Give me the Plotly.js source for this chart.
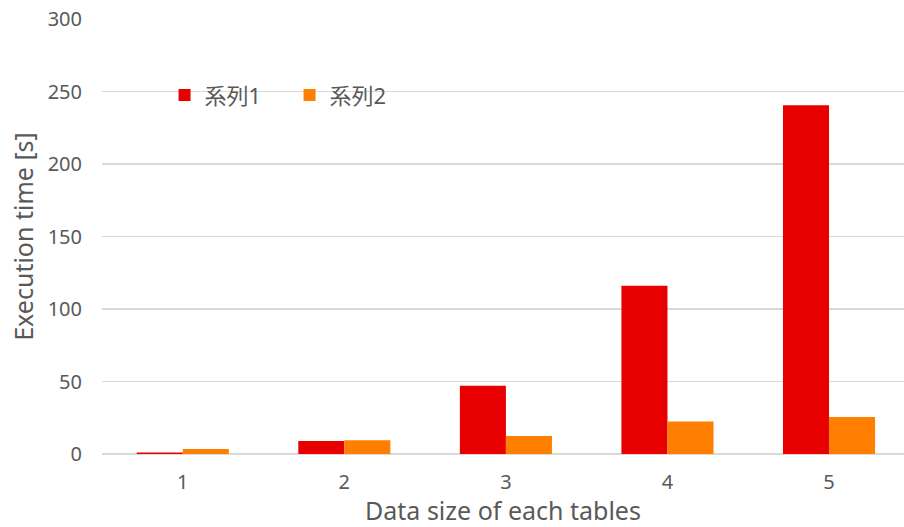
<!DOCTYPE html>
<html><head><meta charset="utf-8">
<script src="https://cdn.plot.ly/plotly-3.0.1.min.js"></script>
<style>body{margin:0;background:#fff}#c{width:904px;height:527px}</style>
</head><body><div id="c"></div>
<script>
const categories = ['1','2','3','4','5'];
const series1Name = '系列1';
const series2Name = '系列2';
const series1 = [1, 9, 47, 116, 240.5];
const series2 = [3.5, 9.5, 12.5, 22.5, 25.5];
const yTicks = [0, 50, 100, 150, 200, 250, 300];

const font = "'Noto Sans', 'Noto Sans CJK JP', sans-serif";
const data = [
  {type:'bar', x:categories, y:series1, name:series1Name, marker:{color:'#E80000'}},
  {type:'bar', x:categories, y:series2, name:series2Name, marker:{color:'#FF8000'}}
];
const layout = {
  width:904, height:527,
  margin:{l:102, r:0, t:19, b:72.5},
  paper_bgcolor:'#fff', plot_bgcolor:'#fff',
  font:{family:font, color:'#595959', size:20},
  barmode:'group', bargap:0.43, bargroupgap:0,
  showlegend:true,
  legend:{orientation:'h', x:0.078, y:0.825, xanchor:'left', yanchor:'middle',
          bgcolor:'rgba(0,0,0,0)', font:{size:22, color:'#595959'}, itemwidth:30,
          entrywidth:80, entrywidthmode:'pixels', traceorder:'normal'},
  xaxis:{type:'category', range:[-0.5, 4.464], showgrid:false, zeroline:false, showline:false, ticks:'',
         ticklabelstandoff:14,
         title:{text:'Data size of each tables', font:{size:25, color:'#595959'}, standoff:9}},
  yaxis:{range:[0,300], tickvals:yTicks, showgrid:true, gridcolor:'#D9D9D9', gridwidth:1.3,
         zeroline:true, zerolinecolor:'#D9D9D9', zerolinewidth:2, showline:false, ticks:'',
         ticklabelstandoff:19,
         title:{text:'Execution time [s]', font:{size:25, color:'#595959'}, standoff:6}}
};
Plotly.newPlot('c', data, layout, {displayModeBar:false, staticPlot:true});
</script></body></html>
